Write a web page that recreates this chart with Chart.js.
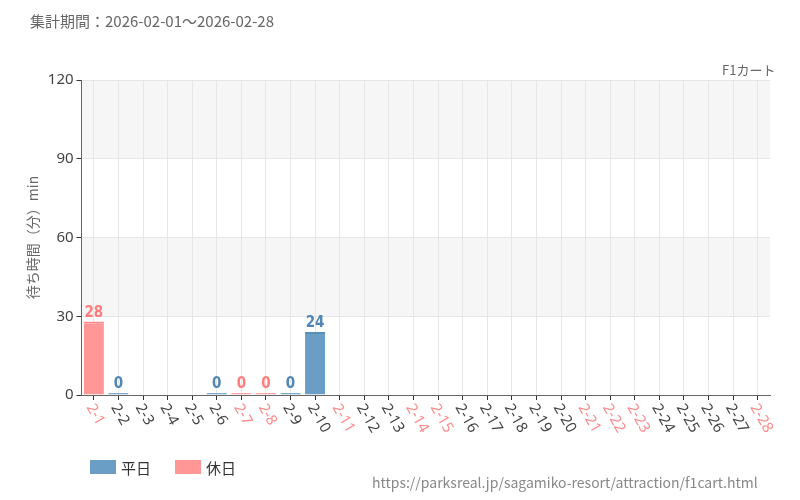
<!DOCTYPE html>
<html><head><meta charset="utf-8">
<script src="https://cdn.jsdelivr.net/npm/chart.js@4"></script>
<style>body{margin:0;background:#fff;font-family:"Noto Sans CJK JP","Noto Sans",sans-serif}
#wrap{position:absolute;left:0;top:0;width:800px;height:500px}
.t{position:absolute;color:#555;font-size:15px}
</style></head><body>
<div id="wrap"><canvas id="c" width="800" height="500"></canvas></div>
<div class="t" style="left:30px;top:10px;font-size:15px;color:#666">集計期間：2026-02-01～2026-02-28</div>
<div class="t" style="left:722px;top:60px;font-size:13px;color:#666">F1カート</div>
<div class="t" style="left:372px;top:472px;font-size:14px;color:#888">https://parksreal.jp/sagamiko-resort/attraction/f1cart.html</div>
<script>
const labels = ['2-1','2-2','2-3','2-4','2-5','2-6','2-7','2-8','2-9','2-10','2-11','2-12','2-13','2-14','2-15','2-16','2-17','2-18','2-19','2-20','2-21','2-22','2-23','2-24','2-25','2-26','2-27','2-28'];
const holidays = ['2-1','2-7','2-8','2-11','2-14','2-15','2-21','2-22','2-23','2-28'];
const weekday = [null,0,null,null,null,0,null,null,0,24,null,null,null,null,null,null,null,null,null,null,null,null,null,null,null,null,null,null];
const holiday = [28,null,null,null,null,null,0,0,null,null,null,null,null,null,null,null,null,null,null,null,null,null,null,null,null,null,null,null];
const yTicks = [0,30,60,90,120];

const bands = {id:'bands',beforeDraw(ch){const {ctx,chartArea:a,scales:{y}}=ch;ctx.save();ctx.fillStyle='#f6f6f6';
  [[30,60],[90,120]].forEach(([l,h])=>{const t=y.getPixelForValue(h),b=y.getPixelForValue(l);ctx.fillRect(a.left,t,a.right-a.left,b-t);});ctx.restore();}};
const vals = {id:'vals',afterDatasetsDraw(ch){const ctx=ch.ctx;ctx.save();ctx.font='bold 15px "Liberation Sans Narrow","DejaVu Sans Condensed",sans-serif';ctx.textAlign='center';ctx.textBaseline='bottom';
  ch.data.datasets.forEach((ds,i)=>{const m=ch.getDatasetMeta(i);ctx.fillStyle=ds.textColor;ds.data.forEach((v,j)=>{if(v===null)return;const e=m.data[j];ctx.fillText(String(v),e.x,Math.min(e.y,e.base-1)-1);});});ctx.restore();}};
const xlab = {id:'xlab',afterDraw(ch){const {ctx,scales:{x}}=ch;ctx.save();ctx.font='15px "Noto Sans",sans-serif';ctx.textAlign='left';ctx.textBaseline='middle';
  labels.forEach((l,i)=>{const px=x.getPixelForValue(i);ctx.save();ctx.translate(px-4,x.top+10);ctx.rotate(Math.PI/3);
    ctx.fillStyle=holidays.includes(l)?'#ff8a8a':'#444';ctx.fillText(l,0,0);ctx.restore();});ctx.restore();}};

new Chart(document.getElementById('c'),{
  type:'bar',
  data:{labels,datasets:[
    {label:'平日',data:weekday,backgroundColor:'#6a9ec5',borderColor:'#5a8fb8',borderWidth:{top:2,left:0,right:0,bottom:0},textColor:'#4f86b5',minBarLength:2,categoryPercentage:0.82,barPercentage:1},
    {label:'休日',data:holiday,backgroundColor:'#ff9797',borderColor:'#ff8a8a',borderWidth:{top:2,left:0,right:0,bottom:0},textColor:'#ff7c7c',minBarLength:2,categoryPercentage:0.82,barPercentage:1}
  ]},
  options:{responsive:false,animation:false,
    layout:{padding:{left:20,right:30,top:80,bottom:100}},
    plugins:{legend:{display:false},tooltip:{enabled:false}},
    scales:{
      x:{stacked:true,grid:{offset:false,color:'#e6e6e6',drawTicks:true,tickColor:'#333',tickLength:5},border:{color:'#666'},
        ticks:{display:false}},
      y:{stacked:true,min:0,max:120,afterBuildTicks:s=>{s.ticks=yTicks.map(v=>({value:v}));},
        grid:{color:'#e6e6e6',tickColor:'#333',tickLength:5},border:{color:'#666'},
        ticks:{font:{size:15,family:'"Noto Sans",sans-serif'},color:'#444'},
        title:{display:true,text:'待ち時間（分）min',color:'#666',font:{size:14,family:'"Noto Sans CJK JP",sans-serif'}}}
    }},
  plugins:[bands,vals,xlab]
});
</script>
<div style="position:absolute;left:90px;top:460px;width:26px;height:14px;background:#6a9ec5"></div>
<div class="t" style="left:121px;top:457px;color:#333">平日</div>
<div style="position:absolute;left:175px;top:460px;width:26px;height:14px;background:#ff9797"></div>
<div class="t" style="left:206px;top:457px;color:#333">休日</div>
</body></html>
